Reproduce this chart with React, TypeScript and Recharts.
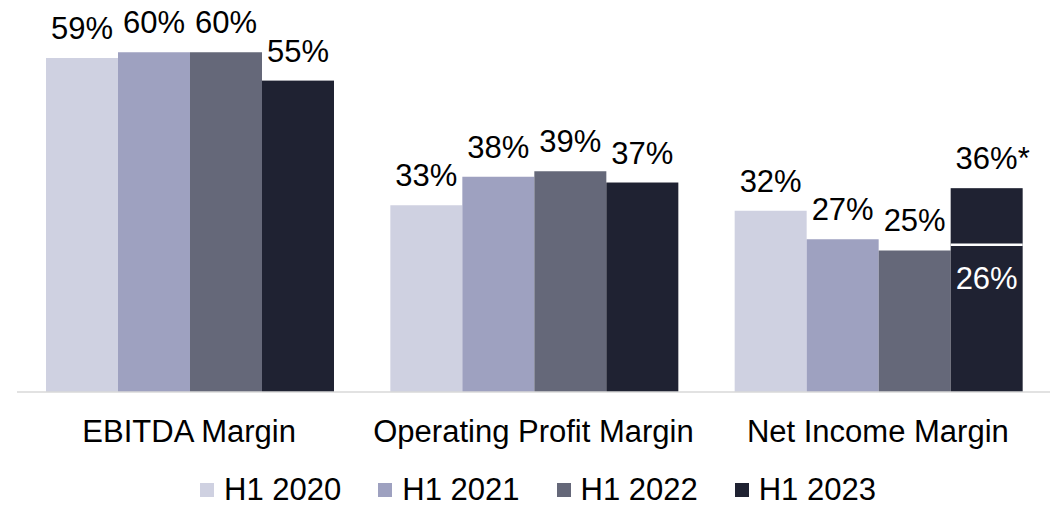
import { BarChart, Bar, XAxis, YAxis, Legend, LabelList } from "recharts";

const FONT = "'Liberation Sans', Arial, Helvetica, sans-serif";

const categories = ["EBITDA Margin", "Operating Profit Margin", "Net Income Margin"];
const seriesNames = ["H1 2020", "H1 2021", "H1 2022", "H1 2023"];
const colors = ["#cfd1e1", "#9ea1c0", "#656879", "#1f2232"];

const h1_2020 = [59, 33, 32];
const h1_2021 = [60, 38, 27];
const h1_2022 = [60, 39, 25];
const h1_2023 = [55, 37, 26];
// adjusted figure drawn on top of the reported one (marked with *)
const h1_2023Adjusted: (number | null)[] = [null, null, 36];

const data = categories.map((name, i) => ({
  name,
  h2020: h1_2020[i],
  h2021: h1_2021[i],
  h2022: h1_2022[i],
  h2023: h1_2023Adjusted[i] ?? h1_2023[i],
}));

const topLabel = (props: any) => {
  const { x, y, width, value } = props;
  return (
    <text x={Number(x) + Number(width) / 2} y={Number(y) - 19} textAnchor="middle" fontSize={31} fontFamily={FONT} fill="#000">
      {value}%
    </text>
  );
};

const label2023 = (props: any) => {
  const { x, y, width, height, index, value } = props;
  const adj = h1_2023Adjusted[index];
  if (adj == null) return topLabel(props);
  const sepY = Number(y) + Number(height) * (1 - h1_2023[index] / adj);
  const cx = Number(x) + Number(width) / 2;
  return (
    <g>
      <text x={cx + 6} y={Number(y) - 19} textAnchor="middle" fontSize={31} fontFamily={FONT} fill="#000">
        {value}%*
      </text>
      <text x={cx} y={sepY + 44} textAnchor="middle" fontSize={31} fontFamily={FONT} fill="#fff">
        {h1_2023[index]}%
      </text>
    </g>
  );
};

const Shape2023 = (props: any) => {
  const { x, y, width, height, fill, index } = props;
  const adj = h1_2023Adjusted[index];
  const sepY = adj == null ? null : y + height * (1 - h1_2023[index] / adj);
  return (
    <g>
      <rect x={x} y={y} width={width} height={height} fill={fill} />
      {sepY != null && (
        <line x1={x} x2={x + width} y1={sepY} y2={sepY} stroke="#fff" strokeWidth={2.5} />
      )}
    </g>
  );
};

const renderLegend = () => (
  <div
    style={{
      display: "flex",
      justifyContent: "center",
      alignItems: "center",
      height: 40,
      paddingTop: 6,
      paddingLeft: 22,
      boxSizing: "border-box",
      fontFamily: FONT,
      fontSize: 31,
      color: "#000",
    }}
  >
    {seriesNames.map((n, i) => (
      <div key={n} style={{ display: "flex", alignItems: "center", marginRight: i < seriesNames.length - 1 ? 37 : 0 }}>
        <span style={{ width: 14, height: 14, background: colors[i], marginRight: 10, display: "inline-block" }} />
        <span style={{ lineHeight: "34px" }}>{n}</span>
      </div>
    ))}
  </div>
);

export default function App() {
  return (
    <div style={{ position: "absolute", left: 0, top: 0, width: 1054, height: 507, background: "#fff" }}>
      <BarChart
        width={1054}
        height={507}
        data={data}
        margin={{ top: 7, right: 4, bottom: 0, left: 17 }}
        barCategoryGap={29}
        barGap={0}
      >
        <XAxis
          dataKey="name"
          tickLine={false}
          tickSize={6}
          tickMargin={22}
          height={75}
          axisLine={{ stroke: "#d9d9d9", strokeWidth: 1.5 }}
          tick={{ fontSize: 31, fill: "#000", fontFamily: FONT }}
          interval={0}
        />
        <YAxis hide domain={[0, 68]} />
        <Legend verticalAlign="bottom" content={renderLegend} wrapperStyle={{ left: 0, width: 1054 }} />
        <Bar dataKey="h2020" name="H1 2020" fill={colors[0]} isAnimationActive={false}>
          <LabelList dataKey="h2020" content={topLabel} />
        </Bar>
        <Bar dataKey="h2021" name="H1 2021" fill={colors[1]} isAnimationActive={false}>
          <LabelList dataKey="h2021" content={topLabel} />
        </Bar>
        <Bar dataKey="h2022" name="H1 2022" fill={colors[2]} isAnimationActive={false}>
          <LabelList dataKey="h2022" content={topLabel} />
        </Bar>
        <Bar dataKey="h2023" name="H1 2023" fill={colors[3]} shape={Shape2023} isAnimationActive={false}>
          <LabelList dataKey="h2023" content={label2023} />
        </Bar>
      </BarChart>
    </div>
  );
}
